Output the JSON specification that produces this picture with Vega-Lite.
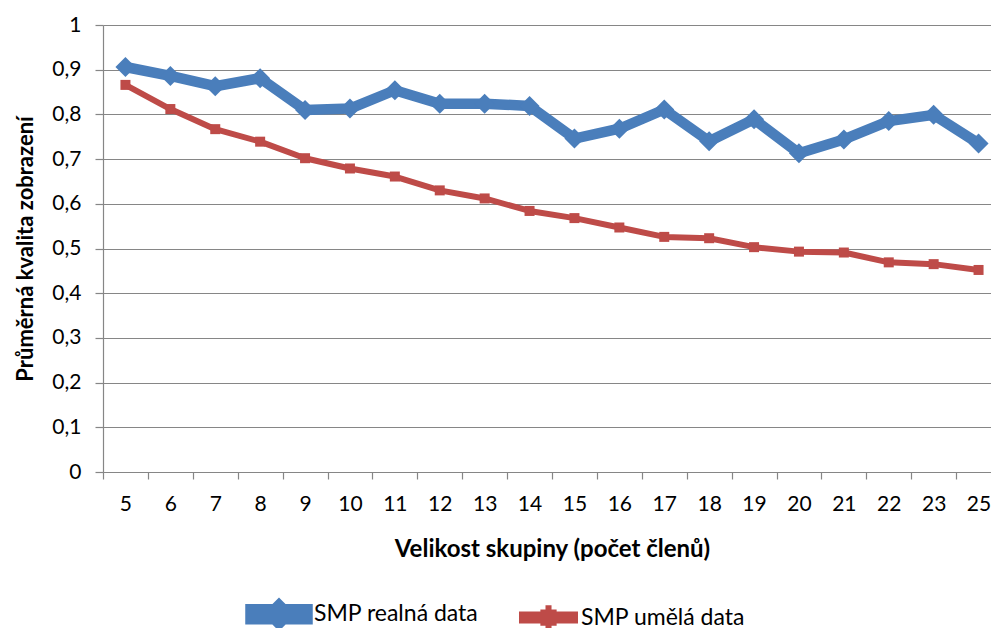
{
  "$schema": "https://vega.github.io/schema/vega-lite/v6.json",
  "width": 888,
  "height": 447,
  "autosize": {"type": "none"},
  "padding": {"left": 103, "top": 25, "right": 0, "bottom": 156},
  "background": "white",
  "config": {
    "font": "Lato",
    "view": {"stroke": null},
    "axis": {
      "domainColor": "#868686",
      "domainWidth": 1.2,
      "tickColor": "#868686",
      "tickWidth": 1.2,
      "gridColor": "#868686",
      "gridWidth": 1.2,
      "labelColor": "#000000",
      "labelFont": "Lato",
      "labelFontSize": 21,
      "titleFont": "Lato",
      "titleFontSize": 22,
      "titleFontWeight": "bold",
      "titleColor": "#000000"
    }
  },
  "data": {
    "values": [
      {"size": 5, "series": "SMP realná data", "value": 0.906},
      {"size": 6, "series": "SMP realná data", "value": 0.886},
      {"size": 7, "series": "SMP realná data", "value": 0.863},
      {"size": 8, "series": "SMP realná data", "value": 0.881},
      {"size": 9, "series": "SMP realná data", "value": 0.810},
      {"size": 10, "series": "SMP realná data", "value": 0.813},
      {"size": 11, "series": "SMP realná data", "value": 0.854},
      {"size": 12, "series": "SMP realná data", "value": 0.824},
      {"size": 13, "series": "SMP realná data", "value": 0.824},
      {"size": 14, "series": "SMP realná data", "value": 0.819},
      {"size": 15, "series": "SMP realná data", "value": 0.746},
      {"size": 16, "series": "SMP realná data", "value": 0.768},
      {"size": 17, "series": "SMP realná data", "value": 0.811},
      {"size": 18, "series": "SMP realná data", "value": 0.740},
      {"size": 19, "series": "SMP realná data", "value": 0.789},
      {"size": 20, "series": "SMP realná data", "value": 0.713},
      {"size": 21, "series": "SMP realná data", "value": 0.744},
      {"size": 22, "series": "SMP realná data", "value": 0.785},
      {"size": 23, "series": "SMP realná data", "value": 0.799},
      {"size": 25, "series": "SMP realná data", "value": 0.735},
      {"size": 5, "series": "SMP umělá data", "value": 0.866},
      {"size": 6, "series": "SMP umělá data", "value": 0.812},
      {"size": 7, "series": "SMP umělá data", "value": 0.767},
      {"size": 8, "series": "SMP umělá data", "value": 0.739},
      {"size": 9, "series": "SMP umělá data", "value": 0.702},
      {"size": 10, "series": "SMP umělá data", "value": 0.679},
      {"size": 11, "series": "SMP umělá data", "value": 0.661},
      {"size": 12, "series": "SMP umělá data", "value": 0.630},
      {"size": 13, "series": "SMP umělá data", "value": 0.612},
      {"size": 14, "series": "SMP umělá data", "value": 0.584},
      {"size": 15, "series": "SMP umělá data", "value": 0.568},
      {"size": 16, "series": "SMP umělá data", "value": 0.547},
      {"size": 17, "series": "SMP umělá data", "value": 0.526},
      {"size": 18, "series": "SMP umělá data", "value": 0.523},
      {"size": 19, "series": "SMP umělá data", "value": 0.503},
      {"size": 20, "series": "SMP umělá data", "value": 0.493},
      {"size": 21, "series": "SMP umělá data", "value": 0.491},
      {"size": 22, "series": "SMP umělá data", "value": 0.469},
      {"size": 23, "series": "SMP umělá data", "value": 0.465},
      {"size": 25, "series": "SMP umělá data", "value": 0.452}
    ]
  },
  "encoding": {
    "x": {
      "field": "size",
      "type": "ordinal",
      "bandPosition": 0.5,
      "scale": {"type": "band", "paddingInner": 0, "paddingOuter": 0, "range": [0, 898]},
      "axis": {
        "title": "Velikost skupiny (počet členů)",
        "titleFontSize": 24,
        "labelAngle": 0,
        "tickBand": "extent",
        "tickSize": 7,
        "labelPadding": 14,
        "titlePadding": 23,
        "grid": false
      }
    },
    "y": {
      "field": "value",
      "type": "quantitative",
      "scale": {"domain": [0, 1], "nice": false},
      "axis": {
        "title": "Průměrná kvalita zobrazení",
        "values": [0, 0.1, 0.2, 0.3, 0.4, 0.5, 0.6, 0.7, 0.8, 0.9, 1],
        "labelExpr": "replace(format(datum.value, '~g'), '.', ',')",
        "tickSize": 8,
        "labelPadding": 14,
        "titlePadding": 14,
        "grid": true
      }
    },
    "color": {
      "field": "series",
      "type": "nominal",
      "scale": {"domain": ["SMP realná data", "SMP umělá data"], "range": ["#4A7EBB", "#BE4B48"]},
      "legend": {
        "orient": "none",
        "legendX": 142,
        "legendY": 555,
        "direction": "horizontal",
        "title": null,
        "labelFontSize": 23,
        "labelFont": "Lato",
        "labelColor": "#000000",
        "labelLimit": 400,
        "symbolSize": 3249,
        "labelOffset": 1,
        "columnPadding": 30,
        "encoding": {
          "symbols": {
            "shape": {
              "condition": {"test": "datum.value === 'SMP realná data'", "value": "M-1,-0.175H1V0.175H-1Z M0,-0.33L0.33,0L0,0.33L-0.33,0Z"},
              "value": "M0,-0.33H0.001V0.33H0Z M-0.93,-0.105H0.93V0.105H-0.93Z M-0.18,-0.18H0.18V0.18H-0.18Z"
            },
            "fill": {
              "condition": {"test": "datum.value === 'SMP realná data'", "value": "#4A7EBB"},
              "value": "#BE4B48"
            },
            "fillOpacity": {"value": 1},
            "stroke": {"value": "transparent"},
            "strokeWidth": {"value": 0},
            "size": {"value": 3249},
            "opacity": {"value": 1}
          }
        }
      }
    }
  },
  "layer": [
    {
      "mark": {"type": "line", "strokeJoin": "round"},
      "encoding": {
        "strokeWidth": {
          "field": "series",
          "type": "ordinal",
          "scale": {"domain": ["SMP realná data", "SMP umělá data"], "range": [10.5, 6]},
          "legend": null
        }
      }
    },
    {
      "transform": [{"filter": "datum.series === 'SMP realná data'"}],
      "mark": {"type": "point", "filled": true, "opacity": 1, "shape": "diamond", "size": 400}
    },
    {
      "transform": [{"filter": "datum.series === 'SMP umělá data'"}],
      "mark": {"type": "point", "filled": true, "opacity": 1, "shape": "square", "size": 100}
    }
  ]
}
